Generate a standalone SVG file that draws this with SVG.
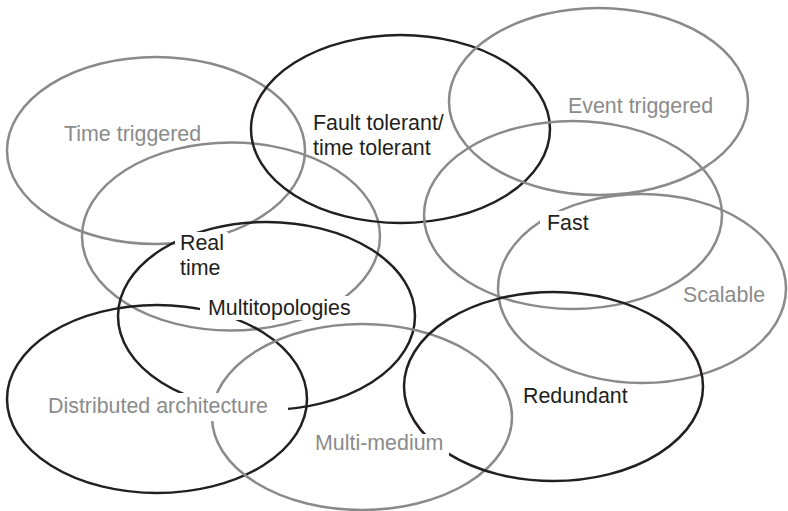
<svg xmlns="http://www.w3.org/2000/svg" width="788" height="511" viewBox="0 0 788 511">
  <style>
    .ring { fill: none; stroke-width: 2.5; }
    .ring.dark { stroke: #231f20; }
    .ring.light { stroke: #8a8a8a; }
    .lbl { font-family: "Liberation Sans", Arial, Helvetica, sans-serif; font-size: 21.4px; }
    .lbl.dark { fill: #231f20; }
    .lbl.light { fill: #8b8b8b; }
    .knock { fill: #ffffff; stroke: none; }
  </style>
  <rect x="0" y="0" width="788" height="511" fill="#ffffff"/>

  <!-- property sets drawn as overlapping rings -->
  <g id="rings">
    <g id="node-time-triggered"><ellipse class="ring light" cx="156" cy="150.5" rx="149" ry="93.5"/></g>
    <g id="node-real-time"><ellipse class="ring light" cx="231" cy="236.5" rx="149" ry="94"/></g>
    <g id="node-fault-tolerant"><ellipse class="ring dark" cx="400.5" cy="129" rx="149.5" ry="94"/></g>
    <g id="node-event-triggered"><ellipse class="ring light" cx="598.5" cy="101.5" rx="149.5" ry="93.5"/></g>
    <g id="node-fast"><ellipse class="ring light" cx="573" cy="215" rx="149" ry="94"/></g>
    <g id="node-scalable"><ellipse class="ring light" cx="642" cy="288.5" rx="144" ry="94.5"/></g>
    <g id="node-multitopologies"><ellipse class="ring dark" cx="266.5" cy="316" rx="148.5" ry="94"/></g>
    <g id="node-distributed"><ellipse class="ring dark" cx="157" cy="399" rx="150" ry="94"/></g>
    <g id="node-multi-medium"><ellipse class="ring light" cx="362" cy="417" rx="150" ry="93"/></g>
    <g id="node-redundant"><ellipse class="ring dark" cx="553.5" cy="386.5" rx="149.5" ry="94.5"/></g>
  </g>

  <!-- labels; white backing boxes break the rings where a label sits on them -->
  <g id="labels">
    <g id="label-time-triggered">
      <text class="lbl light" x="64" y="141">Time triggered</text>
    </g>
    <g id="label-fault-tolerant">
      <text class="lbl dark" x="313" y="130">Fault tolerant/</text>
      <text class="lbl dark" x="313" y="155">time tolerant</text>
    </g>
    <g id="label-event-triggered">
      <text class="lbl light" x="568" y="113">Event triggered</text>
    </g>
    <g id="label-real-time">
      <rect class="knock" x="175" y="232" width="53" height="50"/>
      <text class="lbl dark" x="180" y="250">Real</text>
      <text class="lbl dark" x="180" y="275">time</text>
    </g>
    <g id="label-fast">
      <rect class="knock" x="540" y="211" width="52" height="25"/>
      <text class="lbl dark" x="547" y="230">Fast</text>
    </g>
    <g id="label-multitopologies">
      <rect class="knock" x="200" y="296" width="153" height="24"/>
      <text class="lbl dark" x="208" y="315">Multitopologies</text>
    </g>
    <g id="label-scalable">
      <text class="lbl light" x="683" y="302">Scalable</text>
    </g>
    <g id="label-distributed">
      <rect class="knock" x="44" y="393" width="244" height="28"/>
      <text class="lbl light" x="48" y="413">Distributed architecture</text>
    </g>
    <g id="label-multi-medium">
      <rect class="knock" x="311" y="434" width="138" height="23"/>
      <text class="lbl light" x="315" y="450">Multi-medium</text>
    </g>
    <g id="label-redundant">
      <text class="lbl dark" x="523" y="403">Redundant</text>
    </g>
  </g>
</svg>
